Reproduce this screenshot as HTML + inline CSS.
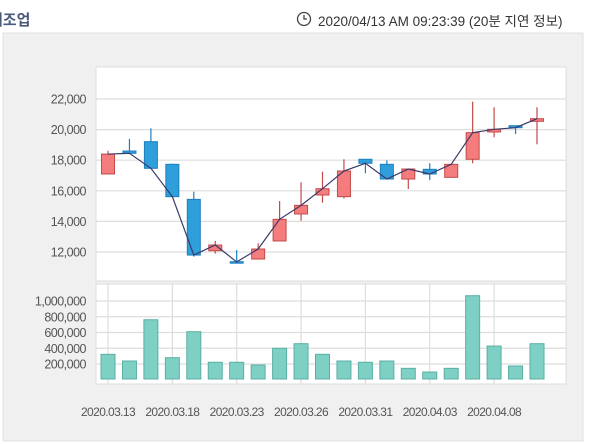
<!DOCTYPE html>
<html><head><meta charset="utf-8">
<style>
body{margin:0;width:600px;height:444px;background:#fff;font-family:"Liberation Sans","Noto Sans CJK KR",sans-serif;overflow:hidden;position:relative}
.title{position:absolute;left:-11px;top:9px;font-size:15px;color:#4a5a7a;font-weight:bold}
.time{position:absolute;left:318px;top:10px;font-size:13.5px;color:#333}
</style></head><body>
<div class="title">제조업</div>
<svg style="position:absolute;left:296px;top:10px" width="18" height="18"><circle cx="8" cy="9" r="6.5" fill="none" stroke="#444" stroke-width="1.3"/><path d="M8 5v4h3" fill="none" stroke="#444" stroke-width="1.3"/></svg>
<div class="time">2020/04/13 AM 09:23:39 (20분 지연 정보)</div>
<svg id="chart" width="600" height="444" style="position:absolute;left:0;top:0"></svg>
<script>
const dates=["2020.03.13","2020.03.16","2020.03.17","2020.03.18","2020.03.19","2020.03.20","2020.03.23","2020.03.24","2020.03.25","2020.03.26","2020.03.27","2020.03.30","2020.03.31","2020.04.01","2020.04.02","2020.04.03","2020.04.06","2020.04.07","2020.04.08","2020.04.09","2020.04.10"];
const opens=[17100,18600,19210,17730,15440,12085,11366,11540,12720,14485,15725,15615,18060,17730,16770,17405,16880,18060,19843,20255,20540];
const closes=[18400,18450,17470,15615,11800,12457,11350,12196,14137,15050,16137,17294,17800,16770,17425,17098,17730,19800,20020,20125,20713];
const highs=[18620,19385,20085,17780,15940,12720,12130,12570,15330,16555,17250,18060,18060,17990,17425,17800,17730,21825,21460,20255,21460];
const lows=[17100,18450,17450,15615,11700,11900,11250,11500,12720,14045,15220,15500,17140,16770,16118,16700,16880,17800,19500,19710,19040];
const volumes=[323000,238000,762000,280000,610000,222000,222000,187000,400000,458000,323000,238000,222000,238000,145000,98000,145000,1067000,428000,175000,458000];
const priceTicks=[12000,14000,16000,18000,20000,22000];
const volTicks=[200000,400000,600000,800000,1000000];
const labelIdx=[0,3,6,9,12,15,18];

const NS="http://www.w3.org/2000/svg",svg=document.getElementById('chart');
function mk(t,a,p){const e=document.createElementNS(NS,t);for(const k in a)e.setAttribute(k,a[k]);(p||svg).appendChild(e);return e;}
const x=i=>108+i*21.45;
const yP=v=>252-(v-12000)*0.0153;
const yV=v=>364-(v-200000)*63/800000;
const base=379;

let e=mk('rect',{x:3,y:33,width:580,height:408,fill:'#f0f0f0',stroke:'#e0e0e0'});

e=mk('rect',{x:96,y:67,width:470,height:214,fill:'#fff',stroke:'#ddd'});

e=mk('rect',{x:96,y:284,width:470,height:100,fill:'#fff',stroke:'#ddd'});


priceTicks.forEach(t=>{
 e=mk('line',{x1:96,x2:566,y1:yP(t),y2:yP(t),stroke:'#ddd','stroke-width':1.2});
 
 e=mk('text',{x:86,y:yP(t)+4.5,'text-anchor':'end','font-size':12.5,fill:'#555','letter-spacing':'-0.5'});
 e.textContent=t.toLocaleString('en-US');
 
});
labelIdx.forEach(i=>{
 e=mk('line',{x1:x(i),x2:x(i),y1:284,y2:384,stroke:'#ddd','stroke-width':1.2});
 
 e=mk('text',{x:x(i),y:416,'text-anchor':'middle','font-size':12,fill:'#555','letter-spacing':'-0.6'});
 e.textContent=dates[i];
 
});
volTicks.forEach(t=>{
 e=mk('line',{x1:96,x2:566,y1:yV(t),y2:yV(t),stroke:'#ddd','stroke-width':1.2});
 
 e=mk('text',{x:86,y:yV(t)+4.5,'text-anchor':'end','font-size':12.5,fill:'#555','letter-spacing':'-0.5'});
 e.textContent=t.toLocaleString('en-US');
 
});
volumes.forEach((v,i)=>{
 e=mk('rect',{x:x(i)-7,y:yV(v),width:14,height:base-yV(v),fill:'#7fd0c4',stroke:'#5aafa3'});
 
});
opens.forEach((o,i)=>{
 const c=closes[i],up=c>=o,fill=up?'#f57c7c':'#2f9fdc',st=up?'#c44a4a':'#1c7fbf';
 e=mk('line',{x1:x(i),x2:x(i),y1:yP(highs[i]),y2:yP(lows[i]),stroke:st,'stroke-width':1.2});
 
 const t=yP(Math.max(o,c)),b=yP(Math.min(o,c));
 e=mk('rect',{x:x(i)-6.5,y:t,width:13,height:Math.max(b-t,1.5),fill:fill,stroke:st});
 
});
e=mk('polyline',{points:closes.map((c,i)=>x(i)+','+yP(c)).join(' '),fill:'none',stroke:'#3a3a6a','stroke-width':1.2});

</script>
</body></html>
